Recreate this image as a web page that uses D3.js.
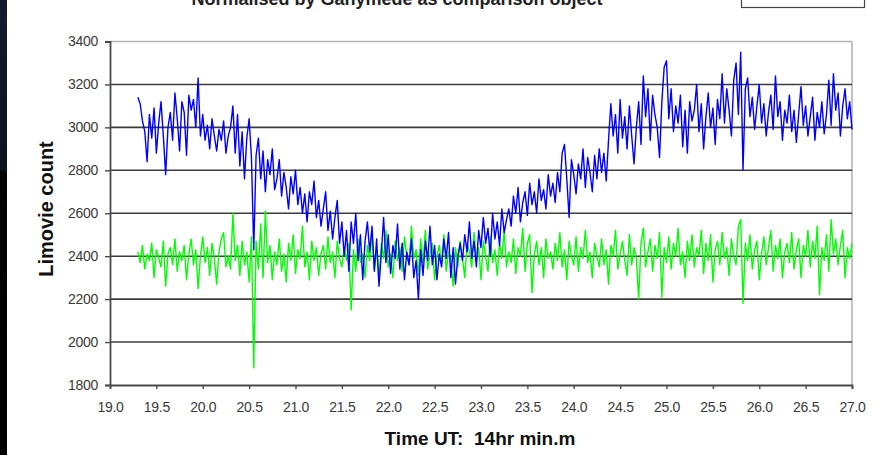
<!DOCTYPE html>
<html>
<head>
<meta charset="utf-8">
<script src="https://cdn.jsdelivr.net/npm/d3@7"></script>
<style>
  body { margin: 0; background: #fff; }
  svg { display: block; }
  text { font-family: "Liberation Sans", Arial, sans-serif; }
</style>
</head>
<body>
<svg id="chart" width="885" height="455"></svg>
<script>
// Text
const chartTitle = "Normalised by Ganymede as comparison object";
const xTitle = "Time UT:  14hr min.m";
const yTitle = "Limovie count";

// Axis ticks
const xTicks = [19.0, 19.5, 20.0, 20.5, 21.0, 21.5, 22.0, 22.5, 23.0, 23.5, 24.0, 24.5, 25.0, 25.5, 26.0, 26.5, 27.0];
const yTicks = [1800, 2000, 2200, 2400, 2600, 2800, 3000, 3200, 3400];

// Sampling of both light curves (minutes past 14h UT)
const sampleStart = 19.3;
const sampleStep = 0.025;

// Target light curve, normalised (blue)
const targetCounts = [
  3140, 3110, 3030, 2980, 2840, 3060, 2950, 3090, 2880, 3020, 3120, 2960, 2780, 3000, 3070, 2940, 3160, 3040, 2890, 3120,
  3070, 2870, 3150, 3080, 3130, 3000, 3230, 2960, 3060, 2940, 3010, 2900, 3040, 2960, 2890, 2990, 2940, 3030, 2880, 2960,
  3000, 3100, 2880, 3060, 2820, 2980, 2760, 2950, 3040, 2860, 2430, 2870, 2950, 2760, 2890, 2700, 2850, 2780, 2900, 2710,
  2760, 2850, 2680, 2790, 2720, 2620, 2770, 2690, 2800, 2640, 2720, 2600, 2690, 2560, 2700, 2640, 2750, 2580, 2660, 2540,
  2620, 2700, 2520, 2610, 2480, 2580, 2660, 2460, 2560, 2400, 2520, 2330, 2560, 2460, 2600, 2380, 2500, 2290, 2470, 2560,
  2420, 2540, 2330, 2480, 2260, 2410, 2580, 2370, 2500, 2320, 2450, 2390, 2550, 2340, 2460, 2290, 2420, 2360, 2480, 2300,
  2380, 2200, 2430, 2310, 2470, 2380, 2540, 2360, 2450, 2290, 2410, 2350, 2480, 2390, 2510, 2300, 2440, 2270, 2400, 2460,
  2380, 2500, 2420, 2560, 2390, 2470, 2350, 2520, 2440, 2580, 2460, 2530, 2400, 2600, 2480, 2560, 2450, 2620, 2510, 2570,
  2620, 2540, 2680, 2600, 2720, 2560, 2650, 2700, 2590, 2740, 2640, 2700, 2600, 2760, 2660, 2710, 2620, 2780, 2680, 2740,
  2650, 2790, 2700, 2880, 2920, 2760, 2580, 2850, 2780, 2690, 2830, 2760, 2900, 2720, 2860, 2790, 2700, 2870, 2760, 2900,
  2790, 2880, 2750, 2940, 3110, 2960, 3060, 2880, 3130, 2950, 3050, 2900, 3100, 2960, 2830, 3000, 3120, 2920, 3240, 3050,
  3180, 2940, 3150, 3060, 3000, 2860, 3120, 3280, 3310, 3040, 3180, 2980, 3100, 3020, 3150, 2910, 3080, 2880, 3120, 3030,
  3080, 3200, 2980, 3110, 2900, 3050, 3160, 3000, 3090, 2920, 3130, 3040, 3250, 3020, 3180, 3080, 2960, 3220, 3300, 3060,
  3350, 2800, 3180, 3230, 3050, 3140, 2990, 3100, 3200, 3020, 3110, 2960, 3070, 3150, 2990, 3240, 3050, 3120, 2940, 3080,
  3020, 3150, 2980, 3080, 2930, 3060, 3190, 3010, 3100, 2960, 3050, 3140, 2940, 3070, 3000, 3120, 2970, 3060, 3220, 3010,
  3250, 3080, 3160, 2960, 3100, 3180, 3040, 3120, 2990
];

// Comparison light curve (green)
const comparisonCounts = [
  2420, 2370, 2450, 2340, 2410, 2380, 2460, 2300, 2430, 2390, 2350, 2470, 2260, 2410, 2440, 2360, 2480, 2330, 2420, 2380,
  2450, 2290, 2410, 2480, 2360, 2430, 2250, 2400, 2490, 2370, 2440, 2310, 2460, 2390, 2270, 2420, 2480, 2510, 2350, 2400,
  2340, 2600, 2380, 2450, 2310, 2470, 2360, 2420, 2280, 2490, 1880, 2470, 2340, 2550, 2300, 2610, 2370, 2450, 2290, 2420,
  2360, 2480, 2330, 2410, 2280, 2460, 2380, 2500, 2320, 2430, 2390, 2540, 2350, 2420, 2290, 2470, 2380, 2440, 2310, 2410,
  2450, 2340, 2490, 2370, 2420, 2300, 2470, 2390, 2350, 2440, 2380, 2460, 2150, 2430, 2330, 2480, 2370, 2410, 2300, 2450,
  2380, 2500, 2340, 2430, 2290, 2460, 2390, 2520, 2350, 2410, 2300, 2470, 2380, 2440, 2330, 2490, 2400, 2360, 2540, 2390,
  2430, 2310, 2480, 2370, 2520, 2340, 2410, 2460, 2290, 2400, 2450, 2360, 2500, 2330, 2420, 2380, 2260, 2440, 2350, 2470,
  2390, 2300, 2460, 2420, 2350, 2510, 2380, 2440, 2290, 2470, 2400, 2330, 2490, 2370, 2430, 2310, 2460, 2390, 2520, 2350,
  2420, 2370, 2480, 2320, 2440, 2400, 2530, 2330, 2460, 2500, 2230, 2410, 2470, 2360, 2440, 2300, 2480, 2390, 2420, 2340,
  2460, 2380, 2510, 2350, 2430, 2290, 2470, 2400, 2360, 2490, 2330, 2440, 2390, 2520, 2370, 2420, 2300, 2460, 2400, 2350,
  2480, 2360, 2430, 2270, 2450, 2400, 2520, 2340, 2410, 2470, 2380, 2310, 2500, 2360, 2440, 2390, 2200, 2460, 2530, 2350,
  2420, 2480, 2330, 2450, 2390, 2510, 2210, 2440, 2370, 2490, 2340, 2460, 2400, 2530, 2360, 2420, 2300, 2470, 2380, 2500,
  2350, 2440, 2400, 2520, 2320, 2460, 2380, 2500, 2280, 2430, 2470, 2360, 2510, 2390, 2440, 2310, 2480, 2400, 2360, 2540,
  2570, 2180, 2460, 2380, 2500, 2340, 2430, 2470, 2290, 2410, 2490, 2360, 2440, 2520, 2330, 2450, 2390, 2480, 2300, 2420,
  2460, 2370, 2510, 2340, 2430, 2480, 2300, 2450, 2400, 2520, 2350, 2470, 2390, 2540, 2220, 2440, 2380, 2500, 2330, 2570,
  2410, 2480, 2360, 2450, 2520, 2300, 2440, 2390, 2460
];

const svg = d3.select("#chart");

// Dark frame strip on the left edge
const defs = svg.append("defs");
const grad = defs.append("linearGradient").attr("id", "edge").attr("x1", 0).attr("y1", 0).attr("x2", 0).attr("y2", 1);
grad.append("stop").attr("offset", "0%").attr("stop-color", "#121b2e");
grad.append("stop").attr("offset", "37%").attr("stop-color", "#0c1220");
grad.append("stop").attr("offset", "38%").attr("stop-color", "#030405");
grad.append("stop").attr("offset", "100%").attr("stop-color", "#000");
svg.append("rect").attr("x", 0).attr("y", 0).attr("width", 7).attr("height", 455).attr("fill", "url(#edge)");

const plot = { left: 110, right: 852, top: 41.5, bottom: 385 };

const x = d3.scaleLinear().domain([19, 27]).range([plot.left, plot.right]);
const y = d3.scaleLinear().domain([1800, 3400]).range([plot.bottom, plot.top]);

// Title (runs off the top edge) and legend frame
svg.append("text")
  .attr("x", 397).attr("y", 5)
  .attr("text-anchor", "middle")
  .attr("font-size", 18).attr("font-weight", "bold").attr("fill", "#222")
  .text(chartTitle);
svg.append("rect")
  .attr("x", 741.5).attr("y", -20).attr("width", 123).attr("height", 27.5)
  .attr("fill", "#fff").attr("stroke", "#444").attr("stroke-width", 1.2);

// Plot frame: light top/right edges
svg.append("line")
  .attr("x1", plot.left).attr("x2", plot.right).attr("y1", y(3400)).attr("y2", y(3400))
  .attr("stroke", "#b4b4b4").attr("stroke-width", 1.4);
svg.append("line")
  .attr("x1", plot.right).attr("x2", plot.right).attr("y1", y(3400)).attr("y2", y(1800))
  .attr("stroke", "#a8a8a8").attr("stroke-width", 1.4);

// Horizontal gridlines
svg.append("g").selectAll("line")
  .data(yTicks.filter(v => v > 1800 && v < 3400))
  .join("line")
  .attr("x1", plot.left).attr("x2", plot.right)
  .attr("y1", d => y(d)).attr("y2", d => y(d))
  .attr("stroke", "#3c3c3c").attr("stroke-width", 1.6);

// Series: comparison first, target on top
const line = d3.line()
  .x((d, i) => x(sampleStart + i * sampleStep))
  .y(d => y(d));

svg.append("path").datum(comparisonCounts)
  .attr("d", line).attr("fill", "none")
  .attr("stroke", "#00ff00").attr("stroke-width", 1.4).attr("stroke-linejoin", "round");
svg.append("path").datum(targetCounts)
  .attr("d", line).attr("fill", "none")
  .attr("stroke", "#0000ff").attr("stroke-width", 1.4).attr("stroke-linejoin", "round");

// Axes
const yAxis = svg.append("g")
  .attr("transform", `translate(${plot.left},0)`)
  .call(d3.axisLeft(y).tickValues(yTicks).tickSize(5).tickPadding(7).tickFormat(d3.format("d")));
const xAxis = svg.append("g")
  .attr("transform", `translate(0,${plot.bottom})`)
  .call(d3.axisBottom(x).tickValues(xTicks).tickSize(4).tickPadding(13).tickFormat(d3.format(".1f")));

[yAxis, xAxis].forEach(g => {
  g.select(".domain").attr("stroke", "#4a4a4a").attr("stroke-width", 1.8);
  g.selectAll(".tick line").attr("stroke", "#4a4a4a").attr("stroke-width", 1.4);
  g.selectAll(".tick text")
    .attr("font-family", "Liberation Sans, Arial, sans-serif")
    .attr("font-size", 14).attr("fill", "#3a3a3a").attr("letter-spacing", "-0.3");
});

// Axis titles
svg.append("text")
  .attr("transform", "translate(53,209) rotate(-90)")
  .attr("text-anchor", "middle")
  .attr("font-size", 20).attr("font-weight", "bold").attr("fill", "#111")
  .text(yTitle);
svg.append("text")
  .attr("x", 480).attr("y", 445)
  .attr("text-anchor", "middle")
  .attr("font-size", 19).attr("font-weight", "bold").attr("fill", "#111")
  .style("white-space", "pre")
  .text(xTitle);
</script>
</body>
</html>
